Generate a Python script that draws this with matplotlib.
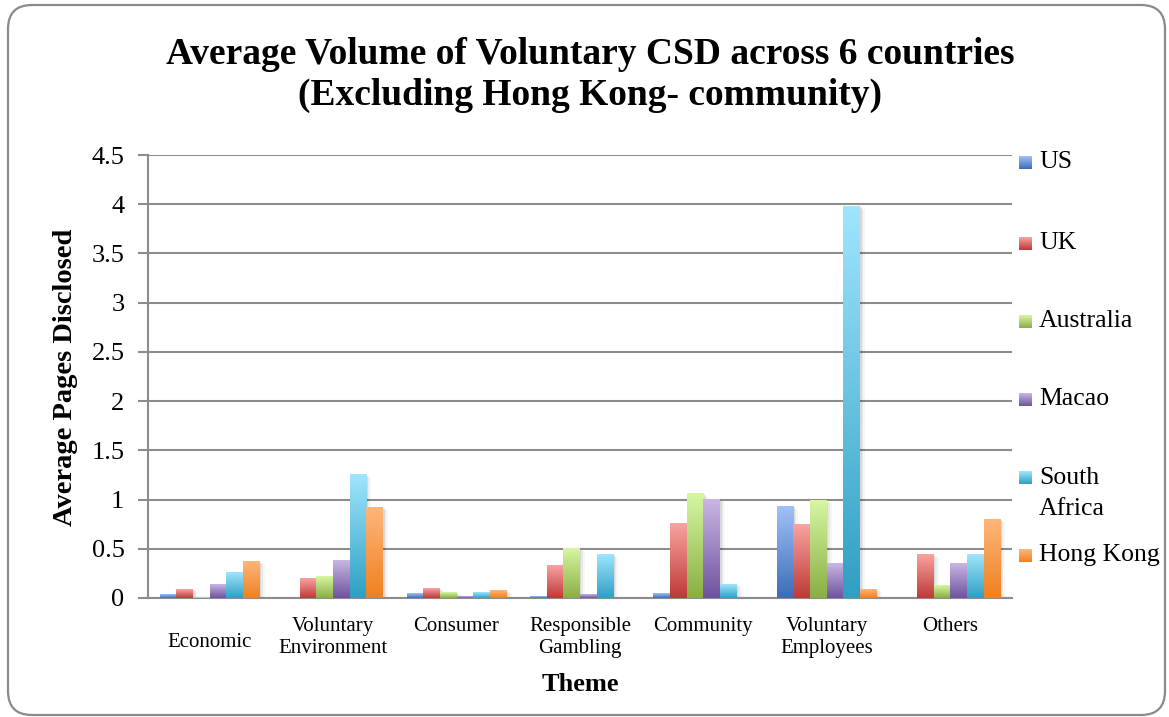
import numpy as np
import matplotlib
matplotlib.use("Agg")
import matplotlib.pyplot as plt
import matplotlib.transforms as mtransforms
from matplotlib.colors import LinearSegmentedColormap
from matplotlib.patches import FancyBboxPatch, Rectangle

# data
categories = ["Economic", "Voluntary\nEnvironment", "Consumer", "Responsible\nGambling",
              "Community", "Voluntary\nEmployees", "Others"]
series = ["US", "UK", "Australia", "Macao", "South\nAfrica", "Hong Kong"]
us = [0.04, 0.0, 0.05, 0.02, 0.05, 0.93, 0.0]
uk = [0.09, 0.20, 0.10, 0.33, 0.76, 0.75, 0.44]
australia = [0.01, 0.22, 0.06, 0.50, 1.06, 0.99, 0.13]
macao = [0.14, 0.38, 0.02, 0.04, 1.00, 0.35, 0.35]
south_africa = [0.26, 1.25, 0.06, 0.44, 0.14, 3.98, 0.44]
hong_kong = [0.37, 0.92, 0.08, 0.0, 0.0, 0.09, 0.80]
values = [us, uk, australia, macao, south_africa, hong_kong]
yticks = [0, 0.5, 1, 1.5, 2, 2.5, 3, 3.5, 4, 4.5]
ytick_labels = ["0", "0.5", "1", "1.5", "2", "2.5", "3", "3.5", "4", "4.5"]

# (bottom, top) gradient colours per series
grads = [("#3a6db7", "#a3c0f7"),
         ("#bd3a37", "#f9a3a1"),
         ("#8aae43", "#d7f6a3"),
         ("#6f529e", "#c9b6e4"),
         ("#2f9fc3", "#a0e5fd"),
         ("#f0801f", "#fdb67c")]

plt.rcParams["font.family"] = ["Liberation Serif", "DejaVu Serif"]

fig = plt.figure(figsize=(11.69, 7.17), dpi=100)
ax = fig.add_axes([0.1266, 0.166, 0.739, 0.6178])

# rounded frame around the chart
frame = FancyBboxPatch((8, 2), 1157, 710, boxstyle="round,pad=0,rounding_size=24",
                       transform=None, fill=False, edgecolor="#8a8a8a", lw=1.6)
fig.patches.append(frame)

x = np.arange(len(categories))
n = len(series)
width = 0.135
for i, (vals, (c0, c1)) in enumerate(zip(values, grads)):
    offs = (i - (n - 1) / 2) * width
    bars = ax.bar(x + offs, vals, width, color="none", edgecolor="none", zorder=3)
    cmap = LinearSegmentedColormap.from_list("g%d" % i, [c0, c1])
    for p in bars:
        h = p.get_height()
        if h <= 0:
            continue
        x0, y0 = p.get_xy()
        w = p.get_width()
        # soft shadow to the lower right
        for k, a in zip((5, 3, 1.5), (0.035, 0.05, 0.07)):
            sh = Rectangle((x0, y0), w, h, facecolor="black", edgecolor="none", alpha=a, zorder=2,
                           transform=ax.transData + mtransforms.ScaledTranslation(k / 100, -k / 200, fig.dpi_scale_trans))
            ax.add_patch(sh)
        ax.imshow(np.linspace(0, 1, 256).reshape(-1, 1), extent=(x0, x0 + w, y0, y0 + h),
                  origin="lower", cmap=cmap, aspect="auto", zorder=3, interpolation="bilinear")

ax.set_xlim(-0.5, len(categories) - 0.5)
ax.set_ylim(0, 4.5)
ax.set_yticks(yticks)
ax.set_yticklabels(ytick_labels, fontsize=19)
ax.yaxis.grid(True, color="#8c8c8c", lw=1.5, zorder=1)
ax.set_axisbelow(True)
ax.tick_params(axis="y", length=7, width=1.5, color="#8c8c8c", pad=10)
ax.tick_params(axis="x", length=0, pad=14)
ax.set_xticks(x)
ax.set_xticklabels(categories, fontsize=15, linespacing=1.2, va="top")
# the single-line first label sits lower
first = ax.get_xticklabels()[0]
first.set_transform(first.get_transform() + mtransforms.ScaledTranslation(0, -0.16, fig.dpi_scale_trans))

for side in ("top", "right"):
    ax.spines[side].set_visible(False)
ax.spines["left"].set_color("#8c8c8c")
ax.spines["left"].set_linewidth(1.5)
ax.spines["bottom"].set_color("#8c8c8c")
ax.spines["bottom"].set_linewidth(1.5)

fig.text(0.505, 0.896, "Average Volume of Voluntary CSD across 6 countries\n(Excluding Hong Kong- community)",
         ha="center", va="center", fontsize=27, fontweight="bold", linespacing=1.22)
fig.text(0.056, 0.474, "Average Pages Disclosed", rotation=90, ha="center", va="center",
         fontsize=20.5, fontweight="bold")
fig.text(0.496, 0.045, "Theme", ha="center", va="center", fontsize=19, fontweight="bold")

# legend, spread down the right side
leg_y = [162, 243, 321, 399, 477, 555]
for name, (c0, c1), yy in zip(series, grads, leg_y):
    lax = fig.add_axes([1019 / 1169, 1 - (yy + 7) / 717, 13 / 1169, 13 / 717])
    lax.imshow(np.linspace(0, 1, 64).reshape(-1, 1), origin="lower", aspect="auto",
               cmap=LinearSegmentedColormap.from_list(name, [c0, c1]))
    lax.axis("off")
    fig.text(1039 / 1169, 1 - yy / 717, name, ha="left", va="top" if "\n" in name else "center",
             fontsize=18.5, linespacing=1.55,
             transform=fig.transFigure + mtransforms.ScaledTranslation(0, 0.1 if "\n" in name else 0, fig.dpi_scale_trans))

fig.savefig("out.png", dpi=100)
